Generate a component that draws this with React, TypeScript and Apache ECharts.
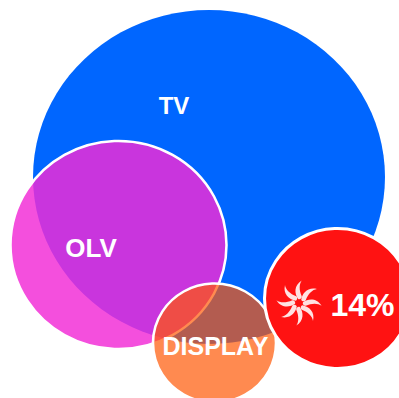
import React, { useEffect, useRef } from "react";
import * as echarts from "echarts";

const names = ["TV", "OLV", "DISPLAY", "14%"];
const centerX = [209, 118.5, 214.5, 337.5];
const centerY = [177, 245, 343, 298.5];
const widths = [352, 216, 123, 146];
const heights = [334, 208, 119, 140];
const fills = ["#0066ff", "rgba(242,43,214,0.83)", "rgba(255,88,6,0.7)", "#ff1212"];
const borders = [0, 2.5, 2.5, 3];
const fontSizes = [24, 26, 25, 32];
const labelOffsets = [[-35, -72], [-27.5, 3], [1, 3], [25, 6.5]];

// One blade of the swirl emblem, repeated around the centre.
const BLADE = "M2 -3 C3 -9 8 -14.5 16 -12.5 C12 -12 8 -8 6 -2.5 C5 -1 2.5 -1.5 2 -3 Z";
echarts.graphic.registerShape("swirlBlade", echarts.graphic.extendPath(BLADE, {}));

const bladeAngles = [0, 1, 2, 3, 4, 5, 6, 7].map((i) => (i * Math.PI) / 4);

export default function App() {
  const ref = useRef<HTMLDivElement>(null);
  useEffect(() => {
    const chart = echarts.init(ref.current!, undefined, { renderer: "svg" });
    chart.setOption({
      animation: false,
      backgroundColor: "#ffffff",
      grid: { left: 0, right: 0, top: 0, bottom: 0 },
      xAxis: { type: "value", min: 0, max: 399, show: false },
      yAxis: { type: "value", min: 0, max: 398, inverse: true, show: false },
      series: [
        {
          type: "scatter",
          silent: true,
          clip: false,
          data: names.map((name, i) => ({
            name,
            value: [centerX[i], centerY[i]],
            symbolSize: [widths[i], heights[i]],
            itemStyle: { color: fills[i], borderColor: "#ffffff", borderWidth: borders[i], opacity: 1 },
            label: {
              show: true,
              position: "inside",
              formatter: name,
              color: "#ffffff",
              fontFamily: "Liberation Sans",
              fontWeight: "bold",
              fontSize: fontSizes[i],
              offset: labelOffsets[i],
            },
          })),
        },
      ],
      graphic: [
        {
          type: "group",
          x: 299,
          y: 303,
          scaleX: 1.12,
          scaleY: 1.12,
          z: 20,
          children: bladeAngles.map((rotation) => ({
            type: "swirlBlade",
            rotation,
            z: 20,
            style: { fill: "#ffffff", opacity: 0.88 },
          })),
        },
      ],
    });
    return () => chart.dispose();
  }, []);
  return <div ref={ref} style={{ position: "fixed", left: 0, top: 0, width: 399, height: 398 }} />;
}
